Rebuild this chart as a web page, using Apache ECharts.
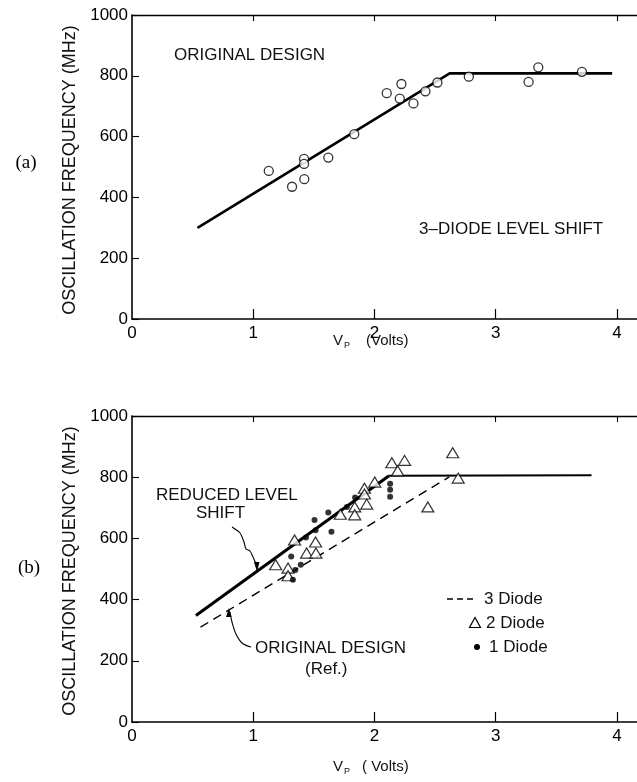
<!DOCTYPE html>
<html><head><meta charset="utf-8">
<script src="https://cdn.jsdelivr.net/npm/echarts@6/dist/echarts.min.js"></script>
<style>html,body{margin:0;padding:0;background:#fff}#c{width:637px;height:782px}</style>
</head><body><div id="c"></div>
<script>
// ---- axes ----
const xTickLabels = [0, 1, 2, 3, 4];
const xTickMarks = [1, 2, 3, 4];
const yTicks = [0, 200, 400, 600, 800, 1000];

// ---- (a) ORIGINAL DESIGN, 3-diode level shift ----
const lineA = [[0.54, 300], [2.62, 808], [3.96, 808]];
const circlesA = [
  [1.128, 487], [1.320, 435], [1.419, 527], [1.419, 510], [1.421, 460],
  [1.619, 531], [1.833, 608], [2.101, 743], [2.222, 773], [2.208, 725],
  [2.321, 709], [2.420, 749], [2.519, 778], [2.778, 797], [3.271, 780],
  [3.351, 828], [3.711, 813]
];

// ---- (b) reduced level shift ----
const reducedLine = [[0.527, 348], [2.12, 805]];
const plateauLine = [[2.12, 805], [3.79, 806]];
const threeDiodeRef = [[0.565, 310], [2.617, 801]];
const twoDiode = [
  [1.185, 514], [1.287, 503], [1.287, 478], [1.341, 595], [1.440, 552],
  [1.514, 588], [1.517, 552], [1.718, 679], [1.837, 703], [1.837, 677],
  [1.917, 764], [1.917, 745], [1.936, 712], [2.002, 784], [2.143, 847],
  [2.191, 821], [2.248, 855], [2.440, 703], [2.645, 880], [2.690, 797]
];
const oneDiode = [
  [1.313, 541], [1.327, 465], [1.347, 497], [1.392, 514], [1.435, 603],
  [1.505, 660], [1.514, 627], [1.619, 685], [1.645, 622], [1.772, 703],
  [1.840, 734], [2.129, 779], [2.129, 759], [2.129, 736]
];

const FONT = '"Liberation Sans", Arial, sans-serif';
const XMAX = 4.165;

function xAxes(grid) {
  return [
    {
      type: 'value', gridIndex: grid, position: 'bottom', min: 0, max: XMAX, interval: 1,
      axisLine: { show: true, onZero: false, lineStyle: { color: '#000', width: 1.6 } },
      axisTick: { show: true, inside: true, length: 10, lineStyle: { color: '#000', width: 1.2 }, customValues: xTickMarks },
      axisLabel: { show: true, margin: 6, color: '#000', fontSize: 17, fontFamily: FONT, customValues: xTickLabels,
        formatter: v => String(v) },
      splitLine: { show: false }
    },
    {
      type: 'value', gridIndex: grid, position: 'top', min: 0, max: XMAX, interval: 1,
      axisLine: { show: true, onZero: false, lineStyle: { color: '#000', width: 1.4 } },
      axisTick: { show: true, inside: true, length: 6, lineStyle: { color: '#000', width: 1.1 }, customValues: xTickMarks },
      axisLabel: { show: false },
      splitLine: { show: false }
    }
  ];
}
function yAxis(grid) {
  return {
    type: 'value', gridIndex: grid, min: 0, max: 1000, interval: 200,
    axisLine: { show: true, onZero: false, lineStyle: { color: '#000', width: 1.6 } },
    axisTick: { show: true, inside: true, length: 7, lineStyle: { color: '#000', width: 1.1 }, customValues: yTicks },
    axisLabel: { margin: 4, color: '#000', fontSize: 17, fontFamily: FONT, customValues: yTicks,
      formatter: v => String(v) },
    splitLine: { show: false }
  };
}

const txt = (text, x, y, extra) => ({
  type: 'text', x: x, y: y, silent: true,
  style: Object.assign({ text: text, fill: '#111', font: '17px ' + FONT, align: 'left', verticalAlign: 'middle' }, extra || {})
});

const option = {
  animation: false,
  backgroundColor: '#fff',
  grid: [
    { left: 132, top: 15, width: 505, height: 304 },
    { left: 132, top: 416, width: 505, height: 306 }
  ],
  xAxis: [].concat(xAxes(0), xAxes(1)),
  yAxis: [yAxis(0), yAxis(1)],
  series: [
    { type: 'line', xAxisIndex: 0, yAxisIndex: 0, data: lineA, showSymbol: false,
      lineStyle: { color: '#000', width: 2.6 }, z: 2 },
    { type: 'scatter', xAxisIndex: 0, yAxisIndex: 0, data: circlesA, symbol: 'circle', symbolSize: 9,
      itemStyle: { color: '#fff', borderColor: '#000', borderWidth: 1.3 }, z: 3 },
    { type: 'line', xAxisIndex: 2, yAxisIndex: 1, data: reducedLine, showSymbol: false,
      lineStyle: { color: '#000', width: 3 }, z: 2 },
    { type: 'line', xAxisIndex: 2, yAxisIndex: 1, data: plateauLine, showSymbol: false,
      lineStyle: { color: '#000', width: 2 }, z: 2 },
    { type: 'line', xAxisIndex: 2, yAxisIndex: 1, data: threeDiodeRef, showSymbol: false,
      lineStyle: { color: '#000', width: 1.4, type: [9, 6] }, z: 2 },
    { type: 'scatter', xAxisIndex: 2, yAxisIndex: 1, data: twoDiode, symbol: 'triangle', symbolSize: [12, 10],
      itemStyle: { color: '#fff', borderColor: '#000', borderWidth: 1.2 }, z: 3 },
    { type: 'scatter', xAxisIndex: 2, yAxisIndex: 1, data: oneDiode, symbol: 'circle', symbolSize: 6,
      itemStyle: { color: '#000' }, z: 4 }
  ],
  graphic: [
    // panel labels
    txt('(a)', 26, 163, { font: '19px "Liberation Serif", serif', align: 'center', fill: '#000' }),
    txt('(b)', 29, 568, { font: '19px "Liberation Serif", serif', align: 'center', fill: '#000' }),
    // y titles
    { type: 'text', x: 70, y: 170, rotation: Math.PI / 2, silent: true,
      style: { text: 'OSCILLATION FREQUENCY (MHz)', fill: '#111', font: '18px ' + FONT, align: 'center', verticalAlign: 'middle' } },
    { type: 'text', x: 70, y: 571, rotation: Math.PI / 2, silent: true,
      style: { text: 'OSCILLATION FREQUENCY (MHz)', fill: '#111', font: '18px ' + FONT, align: 'center', verticalAlign: 'middle' } },
    // x titles
    txt('V', 333, 341, { font: '15px ' + FONT }),
    txt('P', 344, 346, { font: '9px ' + FONT }),
    txt('(Volts)', 366, 341, { font: '15px ' + FONT }),
    txt('V', 333, 767, { font: '15px ' + FONT }),
    txt('P', 344, 772, { font: '9px ' + FONT }),
    txt('( Volts)', 362, 767, { font: '15px ' + FONT }),
    // annotations (a)
    txt('ORIGINAL DESIGN', 174, 55),
    txt('3\u2013DIODE LEVEL SHIFT', 419, 229),
    // annotations (b)
    txt('REDUCED LEVEL', 156, 495),
    txt('SHIFT', 196, 513),
    txt('ORIGINAL DESIGN', 255, 648),
    txt('(Ref.)', 305, 669),
    // arrows
    { type: 'polyline', silent: true,
      shape: { points: [[232, 527], [240, 533], [244, 542], [246, 549], [250, 551], [253, 557], [256, 564]], smooth: 0.25 },
      style: { stroke: '#000', lineWidth: 1.1, fill: null } },
    { type: 'polygon', silent: true, shape: { points: [[257, 572], [254, 562], [259.5, 562]] }, style: { fill: '#000' } },
    { type: 'polyline', silent: true,
      shape: { points: [[251, 647], [242, 643], [236, 634], [232, 622], [230, 612]], smooth: 0.35 },
      style: { stroke: '#000', lineWidth: 1.1, fill: null } },
    { type: 'polygon', silent: true, shape: { points: [[229, 608], [226, 617], [231.5, 617]] }, style: { fill: '#000' } },
    // legend
    { type: 'line', silent: true, shape: { x1: 447, y1: 599, x2: 477, y2: 599 },
      style: { stroke: '#000', lineWidth: 1.4, lineDash: [6, 4] } },
    txt('3 Diode', 484, 599),
    { type: 'polygon', silent: true, shape: { points: [[475, 617.5], [469.5, 627.5], [480.5, 627.5]] },
      style: { fill: '#fff', stroke: '#000', lineWidth: 1.2 } },
    txt('2 Diode', 486, 623),
    { type: 'circle', silent: true, shape: { cx: 477, cy: 647, r: 3 }, style: { fill: '#000' } },
    txt('1 Diode', 489, 647)
  ]
};

const chart = echarts.init(document.getElementById('c'), null, { renderer: 'canvas' });
chart.setOption(option);
</script>
</body></html>
